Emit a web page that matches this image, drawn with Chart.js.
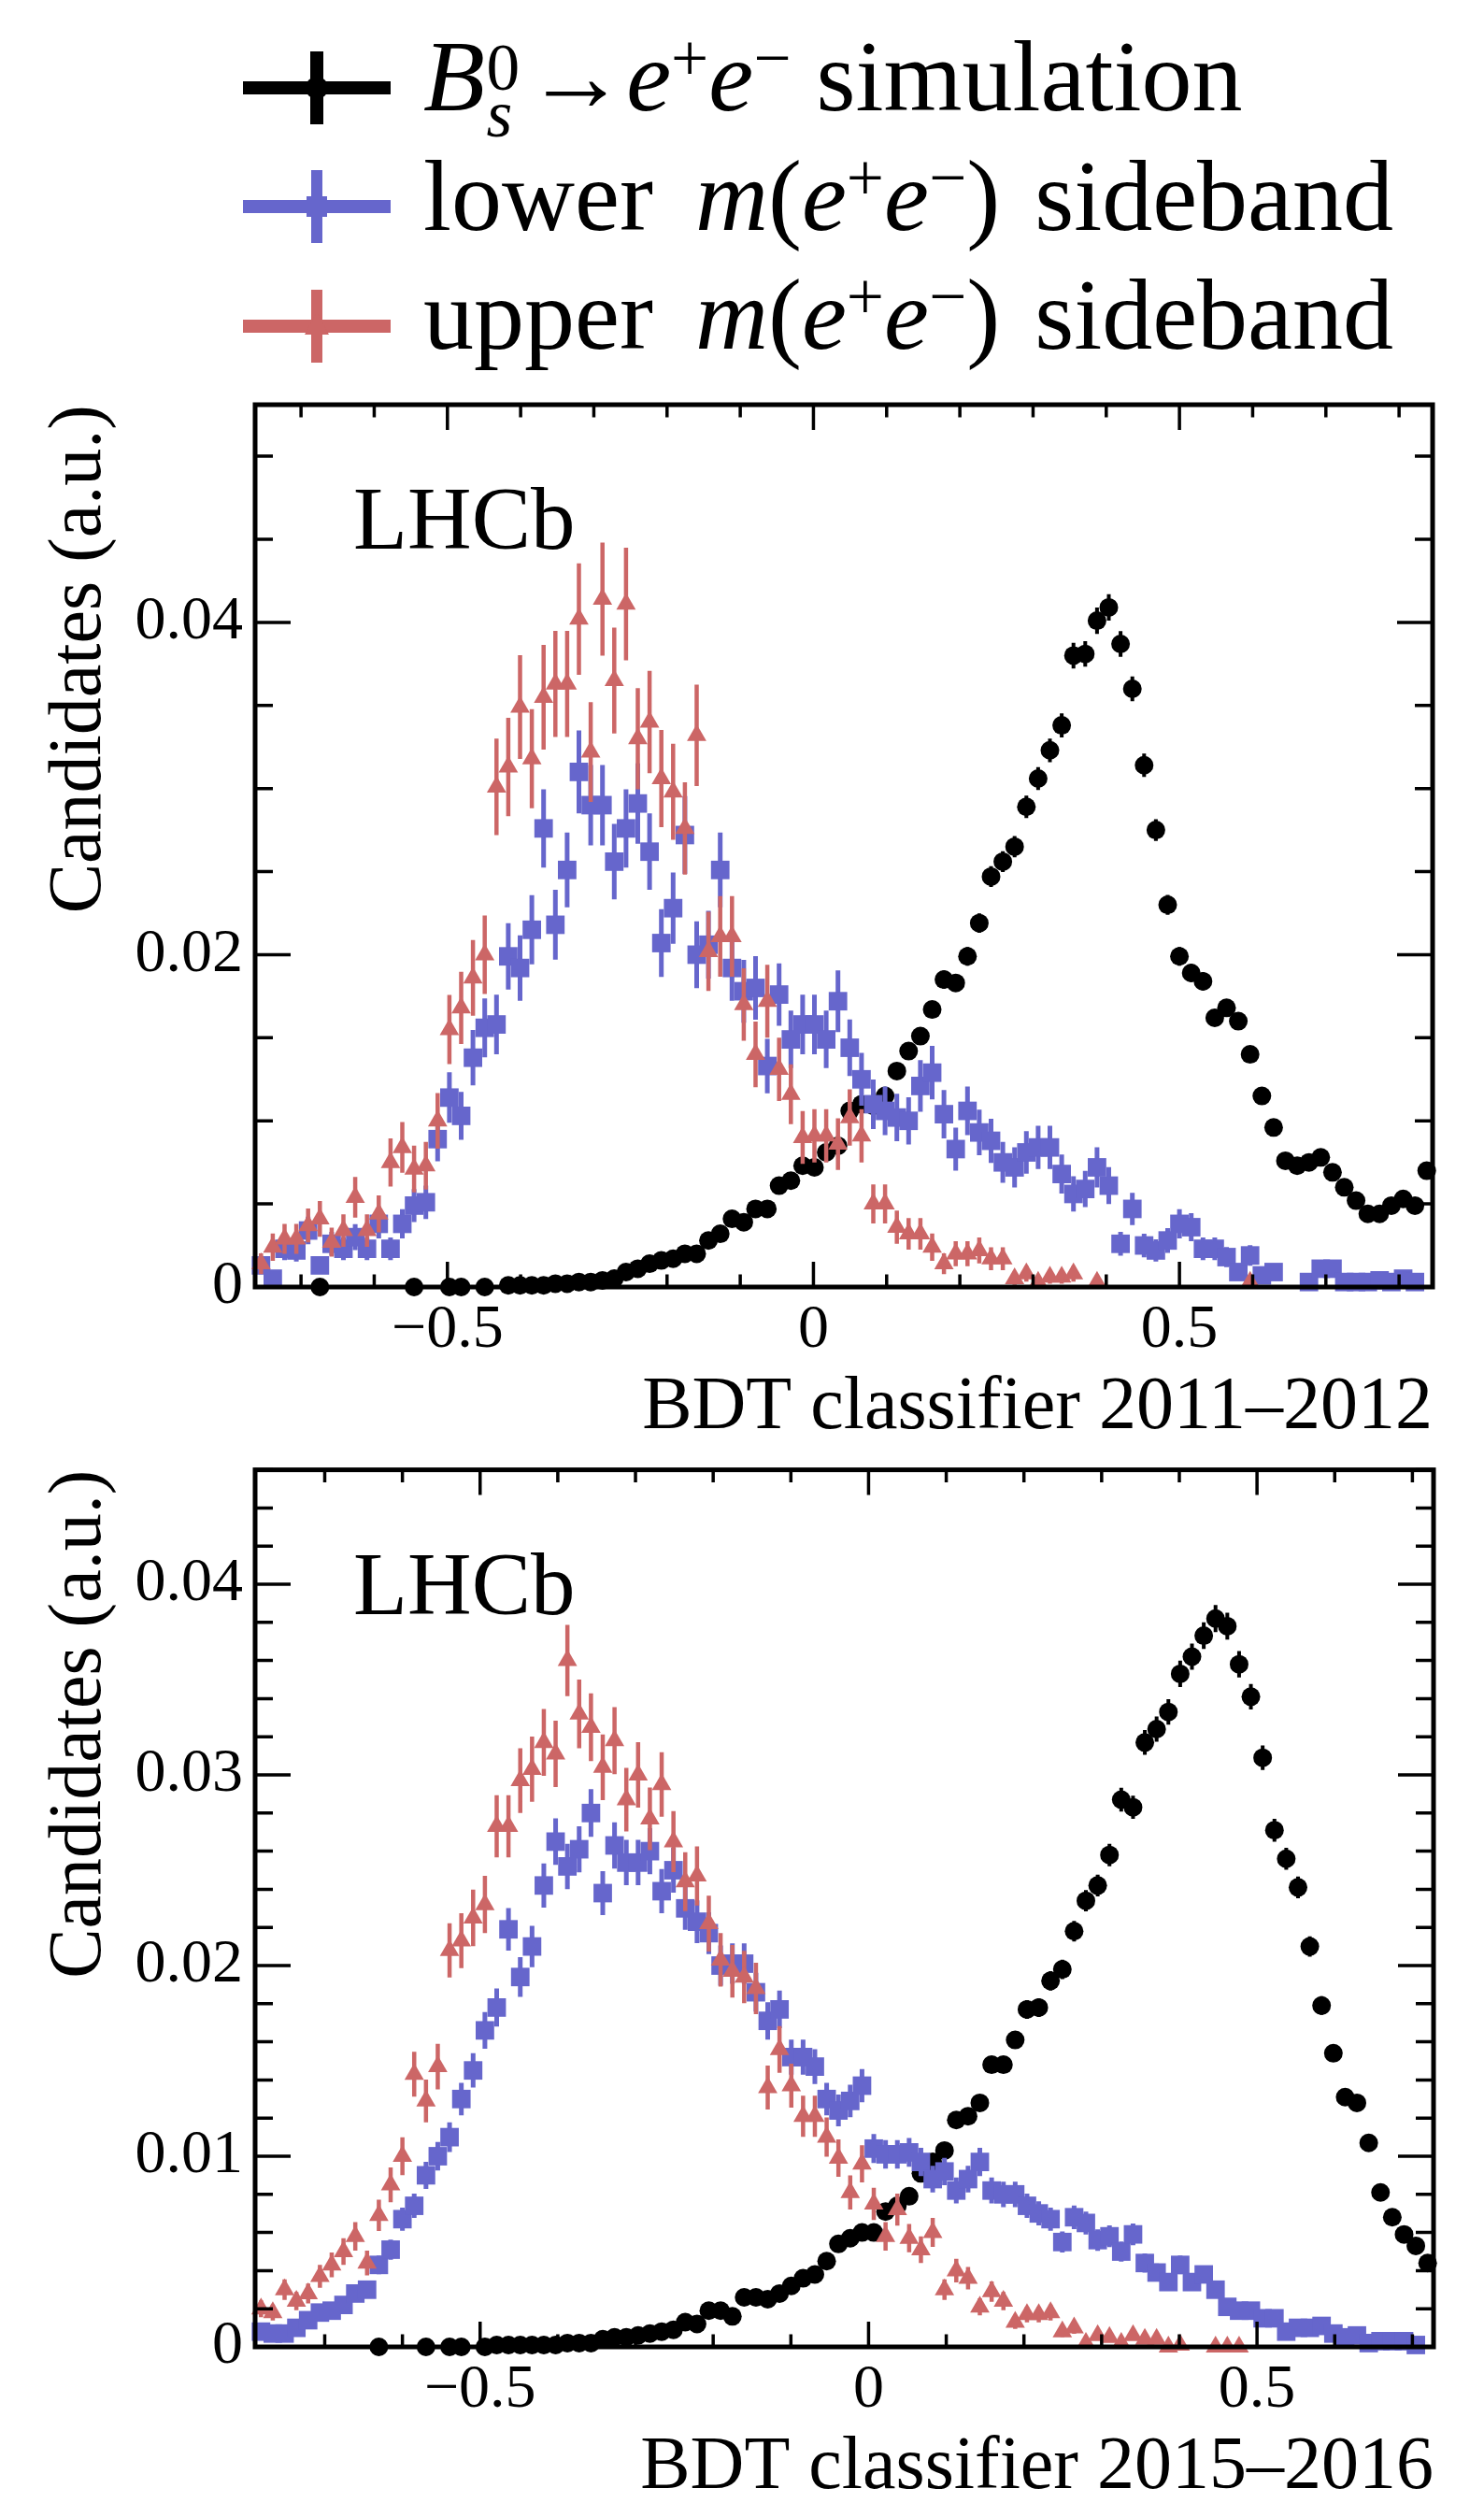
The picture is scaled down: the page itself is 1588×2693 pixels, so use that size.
<!DOCTYPE html>
<html>
<head>
<meta charset="utf-8">
<script src="https://cdn.jsdelivr.net/npm/chart.js@4.4.1/dist/chart.umd.min.js"></script>
<style>
  html, body { margin: 0; padding: 0; background: #fff; }
  body { width: 1588px; height: 2693px; position: relative; overflow: hidden;
         font-family: "Liberation Serif", "DejaVu Serif", serif; color: #000; }
  .panel { position: absolute; left: 0; width: 1588px; }
  #legend { position: absolute; left: 0; top: 0; width: 1588px; height: 380px; font-size: 108px; }
  .row { position: absolute; left: 453px; line-height: 108px; white-space: nowrap; }
  .sp { font-size: .66em; position: relative; top: -.45em; }
  .st { display: inline-block; position: relative; width: .40em; height: 0; }
  .st .up { position: absolute; left: .02em; font-size: .66em; line-height: 1; top: -1.15em; }
  .st .dn { position: absolute; left: .02em; font-size: .66em; line-height: 1; top: -.45em; }
  .gm { margin-left: 18px; }
  .ga { margin-left: 10px; }
  .sym { position: absolute; left: 260px; width: 158px; height: 0; }
  .hb { position: absolute; left: 0; width: 158px; height: 14px; top: -7px; }
  .vb { position: absolute; left: 73px; width: 12px; height: 78px; top: -39px; }
  .circ { position: absolute; left: 67px; top: -12px; width: 24px; height: 24px; border-radius: 50%; }
  .sq { position: absolute; left: 68px; top: -11px; width: 22px; height: 22px; }
  .tri { position: absolute; left: 66px; top: -15px; width: 26px; height: 24px; clip-path: polygon(50% 0, 100% 100%, 0 100%); }
</style>
</head>
<body>

<div id="legend">
  <div class="sym" style="top:94px">
    <div class="hb" style="background:#000"></div><div class="vb" style="background:#000;width:14px;left:72px"></div><div class="circ" style="background:#000"></div>
  </div>
  <div class="row" style="top:28px"><i>B</i><span class="st"><span class="up">0</span><span class="dn"><i>s</i></span></span>→<i>e</i><span class="sp">+</span><i>e</i><span class="sp">−</span> simulation</div>

  <div class="sym" style="top:221px">
    <div class="hb" style="background:#6666cc"></div><div class="vb" style="background:#6666cc"></div><div class="sq" style="background:#6666cc"></div>
  </div>
  <div class="row" style="top:156px">lower <i class="gm">m</i>(<i>e</i><span class="sp">+</span><i>e</i><span class="sp">−</span>)<span class="ga"> </span>sideband</div>

  <div class="sym" style="top:349px">
    <div class="hb" style="background:#cc6666"></div><div class="vb" style="background:#cc6666"></div><div class="tri" style="background:#cc6666"></div>
  </div>
  <div class="row" style="top:283px">upper <i class="gm">m</i>(<i>e</i><span class="sp">+</span><i>e</i><span class="sp">−</span>)<span class="ga"> </span>sideband</div>
</div>

<div class="panel" style="top:380px;height:1180px"><canvas id="c1" width="1588" height="1180"></canvas></div>
<div class="panel" style="top:1520px;height:1173px"><canvas id="c2" width="1588" height="1173"></canvas></div>

<script>
// 100 bins per panel, BDT range of each data-taking period
const nBins = 100;
const topXMin = -0.7627, topXMax = 0.8458, topYMax = 0.0531;
const botXMin = -0.7896, botXMax = 0.7272, botYMax = 0.0460;

// tick labels
const xLabels = [-0.5, 0, 0.5];
const topYLabels = [0, 0.02, 0.04];
const botYLabels = [0, 0.01, 0.02, 0.03, 0.04];

// ---- 2011-2012 ----
const topSim = [
  null,null,null,null,null,0,null,null,null,null,
  null,null,null,0,null,null,0,0,null,0,
  null,0.0001,0.0001,0.0001,0.0001,0.0002,0.0002,0.0003,0.0003,0.0004,
  0.0005,0.0009,0.0011,0.0014,0.0016,0.0017,0.0020,0.0020,0.0028,0.0032,
  0.0041,0.0039,0.0047,0.0047,0.0061,0.0064,0.0073,0.0072,0.0081,0.0085,
  0.0106,0.0110,0.0109,0.0115,0.0130,0.0142,0.0151,0.0167,0.0185,0.0183,
  0.0199,0.0219,0.0247,0.0256,0.0265,0.0289,0.0306,0.0323,0.0338,0.0380,
  0.0381,0.0401,0.0409,0.0387,0.0360,0.0314,0.0275,0.0230,0.0199,0.0189,
  0.0184,0.0162,0.0168,0.0160,0.0140,0.0115,0.0096,0.0076,0.0073,0.0075,
  0.0078,0.0069,0.0060,0.0052,0.0044,0.0044,0.0049,0.0053,0.0049,0.0070
];
const topSimErr = [
  0,0,0,0,0,0,0,0,0,0,
  0,0,0,0,0,0,0,0,0,0,
  0,0.00004,0.00004,0.00004,0.00004,0.00006,0.00006,0.00007,0.00007,0.00008,
  0.00009,0.00012,0.00013,0.00015,0.00016,0.00016,0.00018,0.00018,0.00021,0.00022,
  0.00025,0.00025,0.00027,0.00027,0.00031,0.00032,0.00034,0.00034,0.00036,0.00036,
  0.00041,0.00041,0.00041,0.00042,0.00045,0.00047,0.00049,0.00051,0.00054,0.00053,
  0.00056,0.00058,0.00062,0.00063,0.00064,0.00067,0.00069,0.00071,0.00073,0.00077,
  0.00077,0.00079,0.00080,0.00078,0.00075,0.00070,0.00066,0.00060,0.00056,0.00054,
  0.00054,0.00050,0.00051,0.00050,0.00047,0.00042,0.00039,0.00034,0.00034,0.00034,
  0.00035,0.00033,0.00031,0.00029,0.00026,0.00026,0.00028,0.00029,0.00028,0.00033
];
const topLower = [
  0.0013,0.0005,0.0023,0.0022,0.0034,0.0013,0.0026,0.0023,0.0030,0.0023,
  0.0038,0.0023,0.0038,0.0049,0.0051,0.0089,0.0114,0.0103,0.0138,0.0156,
  0.0158,0.0199,0.0192,0.0215,0.0276,0.0218,0.0251,0.0310,0.0290,0.0290,
  0.0256,0.0276,0.0291,0.0262,0.0207,0.0228,0.0272,0.0200,0.0206,0.0251,
  0.0192,0.0178,0.0180,0.0133,0.0176,0.0149,0.0158,0.0158,0.0149,0.0172,
  0.0144,0.0125,0.0110,0.0106,0.0102,0.0100,0.0121,0.0129,0.0104,0.0083,
  0.0106,0.0093,0.0088,0.0075,0.0072,0.0081,0.0084,0.0084,0.0068,0.0056,
  0.0059,0.0072,0.0061,0.0026,0.0047,0.0025,0.0022,0.0028,0.0038,0.0036,
  0.0023,0.0023,0.0018,0.0009,0.0019,0.0007,0.0009,null,null,0.0003,
  0.0011,0.0011,0.0003,0.0003,0.0003,0.0004,0.0003,0.0005,0.0003,null
];
const topLowerErr = [
  0.00051,0.00032,0.00068,0.00067,0.00083,0.00051,0.00072,0.00068,0.00078,0.00068,
  0.00088,0.00068,0.00088,0.00099,0.00101,0.00134,0.00152,0.00144,0.00167,0.00177,
  0.00179,0.00200,0.00197,0.00208,0.00236,0.00210,0.00225,0.00250,0.00242,0.00242,
  0.00227,0.00236,0.00242,0.00230,0.00204,0.00214,0.00234,0.00201,0.00204,0.00225,
  0.00197,0.00189,0.00191,0.00164,0.00188,0.00173,0.00179,0.00179,0.00173,0.00186,
  0.00170,0.00159,0.00149,0.00146,0.00143,0.00142,0.00156,0.00161,0.00145,0.00129,
  0.00146,0.00137,0.00133,0.00123,0.00121,0.00128,0.00130,0.00130,0.00117,0.00106,
  0.00109,0.00121,0.00111,0.00072,0.00097,0.00071,0.00067,0.00075,0.00088,0.00085,
  0.00068,0.00068,0.00060,0.00043,0.00062,0.00038,0.00043,0,0,0.00025,
  0.00047,0.00047,0.00025,0.00025,0.00025,0.00028,0.00025,0.00032,0.00025,0
];
const topUpper = [
  0.0014,0.0024,0.0029,0.0029,0.0037,0.0041,0.0027,0.0034,0.0054,0.0034,
  0.0044,0.0075,0.0084,0.0071,0.0073,0.0100,0.0155,0.0168,0.0186,0.0200,
  0.0301,0.0313,0.0349,0.0318,0.0355,0.0363,0.0363,0.0402,0.0322,0.0414,
  0.0365,0.0411,0.0330,0.0340,0.0306,0.0298,0.0276,0.0332,0.0202,0.0211,
  0.0211,0.0170,0.0140,0.0172,0.0131,0.0116,0.0090,0.0091,0.0091,0.0086,
  0.0102,0.0091,0.0050,0.0050,0.0036,0.0032,0.0032,0.0024,0.0014,0.0020,
  0.0020,0.0022,0.0017,0.0017,0.0005,0.0008,0.0003,0.0006,0.0006,0.0008,
  null,0.0003,null,null,null,null,null,null,null,null,
  null,null,null,null,0.0003,null,null,null,null,null,
  null,null,null,null,null,null,null,null,null,null
];
const topUpperErr = [
  0.00063,0.00082,0.00090,0.00090,0.00102,0.00107,0.00087,0.00098,0.00123,0.00098,
  0.00111,0.00145,0.00153,0.00141,0.00143,0.00167,0.00208,0.00217,0.00228,0.00236,
  0.00290,0.00296,0.00312,0.00298,0.00315,0.00319,0.00319,0.00335,0.00300,0.00340,
  0.00319,0.00339,0.00304,0.00308,0.00293,0.00289,0.00278,0.00305,0.00238,0.00243,
  0.00243,0.00218,0.00198,0.00219,0.00191,0.00180,0.00159,0.00160,0.00160,0.00155,
  0.00169,0.00160,0.00118,0.00118,0.00100,0.00095,0.00095,0.00082,0.00063,0.00075,
  0.00075,0.00078,0.00069,0.00069,0.00037,0.00047,0.00029,0.00041,0.00041,0.00047,
  0,0.00029,0,0,0,0,0,0,0,0,
  0,0,0,0,0.00029,0,0,0,0,0,
  0,0,0,0,0,0,0,0,0,0
];

// ---- 2015-2016 ----
const botSim = [
  null,null,null,null,null,null,null,null,null,null,
  0,null,null,null,0,null,0,0,null,0,
  0.0001,0.0001,0.0001,0.0001,0.0001,0.0001,0.0002,0.0002,0.0002,0.0004,
  0.0005,0.0005,0.0006,0.0007,0.0008,0.0009,0.0013,0.0012,0.0019,0.0019,
  0.0016,0.0026,0.0026,0.0025,0.0028,0.0032,0.0036,0.0038,0.0045,0.0054,
  0.0057,0.0060,0.0060,0.0071,0.0074,0.0079,0.0091,0.0097,0.0103,0.0119,
  0.0121,0.0128,0.0148,0.0148,0.0161,0.0177,0.0178,0.0192,0.0198,0.0218,
  0.0234,0.0242,0.0258,0.0287,0.0283,0.0317,0.0324,0.0333,0.0353,0.0362,
  0.0373,0.0382,0.0378,0.0358,0.0341,0.0309,0.0271,0.0256,0.0241,0.0210,
  0.0179,0.0154,0.0131,0.0128,0.0107,0.0081,0.0068,0.0059,0.0053,0.0044
];
const botSimErr = [
  0,0,0,0,0,0,0,0,0,0,
  0,0,0,0,0,0,0,0,0,0,
  0.00004,0.00004,0.00004,0.00004,0.00004,0.00004,0.00005,0.00005,0.00005,0.00007,
  0.00008,0.00008,0.00009,0.00010,0.00010,0.00011,0.00013,0.00013,0.00016,0.00016,
  0.00015,0.00019,0.00019,0.00018,0.00019,0.00021,0.00022,0.00022,0.00024,0.00027,
  0.00028,0.00028,0.00028,0.00031,0.00031,0.00032,0.00035,0.00036,0.00037,0.00040,
  0.00040,0.00041,0.00044,0.00044,0.00046,0.00049,0.00049,0.00051,0.00051,0.00054,
  0.00056,0.00057,0.00059,0.00062,0.00061,0.00065,0.00066,0.00067,0.00069,0.00069,
  0.00070,0.00071,0.00071,0.00069,0.00067,0.00064,0.00060,0.00058,0.00057,0.00053,
  0.00049,0.00045,0.00042,0.00041,0.00038,0.00033,0.00030,0.00028,0.00027,0.00024
];
const botLower = [
  0.0008,0.0007,0.0007,0.0010,0.0014,0.0018,0.0019,0.0022,0.0028,0.0030,
  0.0043,0.0051,0.0067,0.0074,0.0090,0.0100,0.0110,0.0130,0.0145,0.0166,
  0.0178,0.0219,0.0194,0.0210,0.0242,0.0265,0.0252,0.0261,0.0280,0.0238,
  0.0263,0.0254,0.0254,0.0260,0.0239,0.0250,0.0230,0.0223,0.0217,0.0200,
  0.0201,0.0201,0.0186,0.0171,0.0177,0.0152,0.0152,0.0147,0.0130,0.0124,
  0.0129,0.0137,0.0104,0.0101,0.0101,0.0102,0.0097,0.0088,0.0092,0.0082,
  0.0088,0.0097,0.0082,0.0080,0.0080,0.0074,0.0070,0.0067,0.0055,0.0068,
  0.0065,0.0056,0.0058,0.0050,0.0059,0.0044,0.0039,0.0034,0.0043,0.0034,
  0.0038,0.0030,0.0021,0.0019,0.0019,0.0015,0.0015,0.0008,0.0010,0.0010,
  0.0011,0.0007,0.0005,0.0006,0.0002,0.0003,0.0003,0.0003,0.0001,null
];
const botLowerErr = [
  0.00021,0.00020,0.00020,0.00024,0.00028,0.00032,0.00033,0.00035,0.00040,0.00041,
  0.00049,0.00053,0.00061,0.00064,0.00071,0.00075,0.00078,0.00085,0.00090,0.00096,
  0.00100,0.00111,0.00104,0.00108,0.00116,0.00122,0.00119,0.00121,0.00125,0.00115,
  0.00121,0.00119,0.00119,0.00121,0.00116,0.00118,0.00113,0.00112,0.00110,0.00106,
  0.00106,0.00106,0.00102,0.00098,0.00099,0.00092,0.00092,0.00091,0.00085,0.00083,
  0.00085,0.00087,0.00076,0.00075,0.00075,0.00075,0.00074,0.00070,0.00072,0.00068,
  0.00070,0.00074,0.00068,0.00067,0.00067,0.00064,0.00063,0.00061,0.00055,0.00062,
  0.00060,0.00056,0.00057,0.00053,0.00057,0.00050,0.00047,0.00044,0.00049,0.00044,
  0.00046,0.00041,0.00034,0.00033,0.00033,0.00029,0.00029,0.00021,0.00024,0.00024,
  0.00025,0.00020,0.00017,0.00018,0.00011,0.00013,0.00013,0.00013,0.00007,0
];
const botUpper = [
  0.0020,0.0018,0.0030,0.0024,0.0028,0.0037,0.0043,0.0050,0.0058,0.0044,
  0.0069,0.0085,0.0100,0.0143,0.0129,0.0147,0.0208,0.0213,0.0225,0.0232,
  0.0273,0.0273,0.0297,0.0303,0.0317,0.0311,0.0360,0.0332,0.0325,0.0304,
  0.0318,0.0287,0.0300,0.0277,0.0295,0.0265,0.0244,0.0247,0.0222,0.0203,
  0.0197,0.0194,0.0188,0.0136,0.0156,0.0137,0.0121,0.0121,0.0110,0.0099,
  0.0081,0.0096,0.0075,0.0058,0.0072,0.0057,0.0051,0.0060,0.0030,0.0040,
  0.0036,0.0021,0.0029,0.0024,0.0013,0.0017,0.0017,0.0018,0.0008,0.0010,
  0.0002,0.0006,0.0005,0.0002,0.0006,0.0004,0.0004,0,0.0001,null,
  null,0,0,0,null,null,null,null,null,null,
  null,null,null,null,null,null,null,null,null,null
];
const botUpperErr = [
  0.00044,0.00042,0.00054,0.00048,0.00052,0.00060,0.00065,0.00070,0.00075,0.00065,
  0.00082,0.00091,0.00099,0.00118,0.00112,0.00119,0.00142,0.00144,0.00148,0.00150,
  0.00163,0.00163,0.00170,0.00171,0.00175,0.00174,0.00187,0.00180,0.00178,0.00172,
  0.00176,0.00167,0.00171,0.00164,0.00169,0.00160,0.00154,0.00155,0.00147,0.00140,
  0.00138,0.00137,0.00135,0.00115,0.00123,0.00115,0.00108,0.00108,0.00103,0.00098,
  0.00089,0.00097,0.00085,0.00075,0.00084,0.00074,0.00070,0.00076,0.00054,0.00062,
  0.00059,0.00045,0.00053,0.00048,0.00036,0.00041,0.00041,0.00042,0.00028,0.00031,
  0.00014,0.00024,0.00022,0.00014,0.00024,0.00020,0.00020,0,0.00010,0,
  0,0,0,0,0,0,0,0,0,0,
  0,0,0,0,0,0,0,0,0,0
];

const FONT = 'Liberation Serif';
const BLACK = '#000000', BLUE = '#6666cc', RED = '#cc6666';

function binCenters(lo, hi) {
  return Array.from({length: nBins}, (_, i) => lo + (hi - lo) * (i + 0.5) / nBins);
}

function toPoints(centers, vals, errs) {
  const out = [];
  vals.forEach((v, i) => { if (v !== null) out.push({x: centers[i], y: v, e: errs[i]}); });
  return out;
}

function fmtX(v) { return v < 0 ? '\u2212' + Math.abs(v) : String(v); }
function fmtY(v) { return v === 0 ? '0' : String(+v.toFixed(3)); }

// vertical error bars, drawn under each dataset's markers
const errorBars = {
  id: 'errorBars',
  beforeDatasetDraw(chart, args) {
    const ds = chart.data.datasets[args.index];
    const y = chart.scales.y;
    const ctx = chart.ctx;
    ctx.save();
    ctx.strokeStyle = ds.borderColor;
    ctx.lineWidth = ds.errWidth;
    ctx.beginPath();
    args.meta.data.forEach((el, k) => {
      const p = ds.data[k];
      if (!p.e) return;
      ctx.moveTo(el.x, y.getPixelForValue(p.y - p.e));
      ctx.lineTo(el.x, y.getPixelForValue(p.y + p.e));
    });
    ctx.stroke();
    ctx.restore();
  }
};

// ROOT style frame with inward ticks on all four sides + LHCb label
const frameTicks = {
  id: 'frameTicks',
  afterDatasetsDraw(chart, args, o) {
    const {ctx, chartArea: a, scales: {x, y}} = chart;
    ctx.save();
    ctx.strokeStyle = '#000';
    ctx.lineWidth = 3.5;
    ctx.beginPath();
    for (let k = Math.ceil(x.min / o.xStep - 1e-6); k * o.xStep <= x.max + 1e-9; k++) {
      const px = x.getPixelForValue(k * o.xStep);
      const len = (k % o.xEvery === 0) ? 27 : 13.5;
      ctx.moveTo(px, a.bottom); ctx.lineTo(px, a.bottom - len);
      ctx.moveTo(px, a.top); ctx.lineTo(px, a.top + len);
    }
    for (let k = 0; k * o.yStep <= y.max + 1e-9; k++) {
      const py = y.getPixelForValue(k * o.yStep);
      const len = (k % o.yEvery === 0) ? 38 : 19;
      ctx.moveTo(a.left, py); ctx.lineTo(a.left + len, py);
      ctx.moveTo(a.right, py); ctx.lineTo(a.right - len, py);
    }
    ctx.stroke();
    ctx.lineWidth = 5;
    ctx.strokeRect(a.left, a.top, a.right - a.left, a.bottom - a.top);
    ctx.fillStyle = '#000';
    ctx.font = '95px "' + FONT + '"';
    ctx.textBaseline = 'alphabetic';
    ctx.textAlign = 'left';
    ctx.fillText('LHCb', a.left + 105, a.top + 154);
    ctx.restore();
  }
};

function makePanel(id, xmin, xmax, ymax, yLabels, sim, simErr, lower, lowerErr, upper, upperErr, xTitle, yStep, yEvery, pad, xAxisH, titlePadB) {
  const c = binCenters(xmin, xmax);
  const mk = (label, pts, color, style, r, w, order) => ({
    label, data: pts, order, clip: false,
    pointStyle: style, pointRadius: r, pointBorderWidth: 0,
    backgroundColor: color, borderColor: color, errWidth: w, showLine: false
  });
  new Chart(document.getElementById(id), {
    type: 'scatter',
    data: {
      datasets: [
        mk('simulation', toPoints(c, sim, simErr), BLACK, 'circle', 10, 4, 3),
        mk('lower sideband', toPoints(c, lower, lowerErr), BLUE, 'rect', 14, 5, 2),
        mk('upper sideband', toPoints(c, upper, upperErr), RED, 'triangle', 12, 4.5, 1)
      ]
    },
    options: {
      responsive: false,
      animation: false,
      events: [],
      layout: { padding: pad },
      plugins: {
        legend: { display: false },
        tooltip: { enabled: false },
        frameTicks: { xStep: 0.1, xEvery: 5, yStep: yStep, yEvery: yEvery }
      },
      scales: {
        x: {
          type: 'linear', min: xmin, max: xmax,
          grid: { display: false, drawTicks: false },
          border: { display: false },
          afterBuildTicks: (s) => { s.ticks = xLabels.map(v => ({value: v})); },
          afterFit: (s) => { s.height = xAxisH; },
          ticks: { callback: fmtX, padding: 7, maxRotation: 0, autoSkip: false,
                   color: '#000', font: { family: FONT, size: 66 } },
          title: { display: true, text: xTitle, align: 'end', color: '#000',
                   font: { family: FONT, size: 80 }, padding: { top: 0, bottom: titlePadB } }
        },
        y: {
          type: 'linear', min: 0, max: ymax,
          grid: { display: false, drawTicks: false },
          border: { display: false },
          afterBuildTicks: (s) => { s.ticks = yLabels.map(v => ({value: v})); },
          afterFit: (s) => { s.width = 273; },
          ticks: { callback: fmtY, padding: 13, color: '#000', font: { family: FONT, size: 66 } },
          title: { display: true, text: 'Candidates (a.u.)', align: 'end', color: '#000',
                   font: { family: FONT, size: 80 }, padding: { top: 38, bottom: 0 } }
        }
      }
    },
    plugins: [errorBars, frameTicks]
  });
}

makePanel('c1', topXMin, topXMax, topYMax, topYLabels,
  topSim, topSimErr, topLower, topLowerErr, topUpper, topUpperErr,
  'BDT classifier 2011\u20132012', 0.005, 4,
  { left: 0, right: 55, top: 53, bottom: 0 }, 183, 5);

makePanel('c2', botXMin, botXMax, botYMax, botYLabels,
  botSim, botSimErr, botLower, botLowerErr, botUpper, botUpperErr,
  'BDT classifier 2015\u20132016', 0.002, 5,
  { left: 0, right: 54, top: 49, bottom: 0 }, 182, 4);
</script>
</body>
</html>
